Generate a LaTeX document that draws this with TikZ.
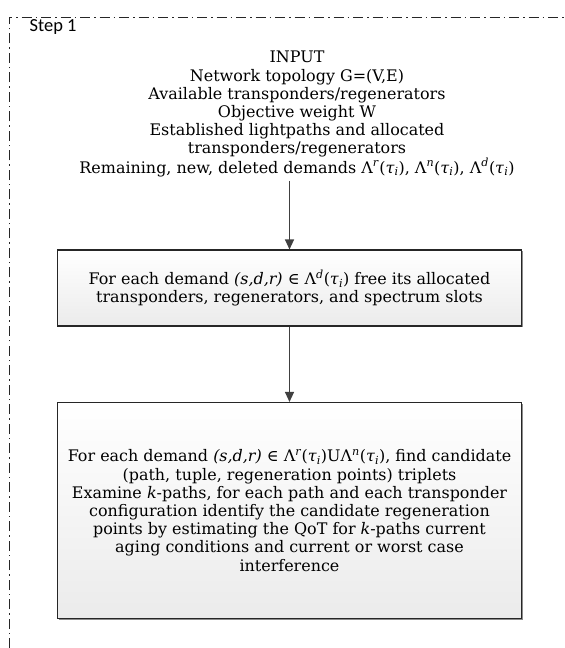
\documentclass[tikz,border=0pt]{standalone}
\usepackage{fontspec}
\newfontfamily\stepfont{Carlito}
\newfontfamily\bodyfont{DejaVu Serif}
\usetikzlibrary{arrows.meta,shadows}
\definecolor{arrowgray}{HTML}{404040}
\definecolor{boxbottom}{HTML}{EBEBEB}
\newcommand{\lam}[1]{Λ\textsuperscript{\textit{#1}}(\textit{τ}\textsubscript{\textit{i}})}
\tikzset{
  frameline/.style={draw=black!85, line width=0.9bp, dash pattern=on 10bp off 4bp on 1.5bp off 4bp},
  procbox/.style={draw=black!85, line width=1.1bp, top color=white, bottom color=boxbottom,
    inner sep=0pt, align=center, minimum width=464bp,
    drop shadow={shadow xshift=1.3bp, shadow yshift=-1.3bp, fill=black!45, opacity=1}},
  maintext/.style={font=\bodyfont\fontsize{16}{18.3}\selectfont},
  flowarrow/.style={draw=arrowgray, line width=1.2bp, -{Triangle[length=10bp,width=9bp]}},
}
\begin{document}
\begin{tikzpicture}[x=1bp,y=-1bp]
\useasboundingbox (0,0) rectangle (565,648);
\coordinate (fbl) at (9,648);
\coordinate (ftl) at (9,17);
\coordinate (ftr) at (565,17);
\draw[frameline] (fbl) -- (ftl) -- (ftr);
\node[anchor=base west, inner sep=0pt, font=\stepfont\fontsize{18.5}{21}\selectfont] (step) at (29.5,32) {Step 1};

\node[maintext, anchor=north, inner sep=0pt, align=center] (in) at (297,51) {INPUT\\
Network topology G=(V,E)\\
Available transponders/regenerators\\
Objective weight W\\
Established lightpaths and allocated\\
transponders/regenerators\\
Remaining, new, deleted demands \lam{r}, \lam{n}, \lam{d}};

\node[procbox, maintext, minimum height=76bp] (b1) at (289.5,288) {For each demand \textit{(s,d,r)} ∈ \lam{d} free its allocated\\
transponders, regenerators, and spectrum slots};

\node[procbox, maintext, minimum height=216bp] (b2) at (289.5,510.5) {For each demand \textit{(s,d,r)} ∈ \lam{r}U\lam{n}, find candidate\\
(path, tuple, regeneration points) triplets\\
Examine \textit{k}-paths, for each path and each transponder\\
configuration identify the candidate regeneration\\
points by estimating the QoT for \textit{k}-paths current\\
aging conditions and current or worst case\\
interference};

\draw[flowarrow, shorten <=4bp] (in.south -| b1.north) -- (b1.north);
\draw[flowarrow] (b1.south) -- (b2.north);
\end{tikzpicture}
\end{document}
